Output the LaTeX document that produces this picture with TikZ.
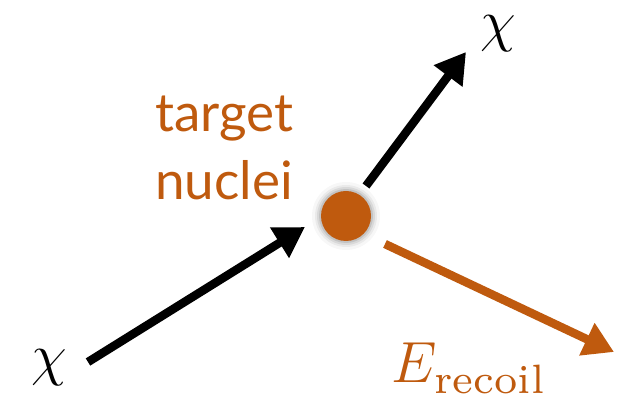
\RequirePackage{fix-cm}
\documentclass[tikz,border=0pt]{standalone}
\usepackage{fontspec}
\newfontfamily\labelfont{Lato}
\newfontfamily\subfont{lmroman7-regular.otf}
\usetikzlibrary{arrows.meta}
\definecolor{burnt}{RGB}{191,90,14}
\begin{document}
\begin{tikzpicture}[x=1pt,y=-1pt,
  arr/.style={line width=8.5pt,-{Triangle[length=30pt,width=34pt]}},
  bigmath/.style={font=\fontsize{58}{60}\selectfont, inner sep=0pt}]
\useasboundingbox (0,0) rectangle (629,411);
% glow behind nucleus
\foreach \r/\o in {34/0.03,31/0.05,29/0.07,27/0.1}
  \fill[black,opacity=\o] (346,216) circle (\r);
\node[circle,fill=burnt,minimum size=50pt,inner sep=0pt] (nuc) at (346,216) {};
\coordinate (inS) at (88,362);
\coordinate (inE) at (305,227);
\coordinate (outS) at (366,186);
\coordinate (outE) at (466,52);
\coordinate (recS) at (385,244);
\coordinate (recE) at (614,352);
\draw[arr] (inS) -- (inE);
\draw[arr] (outS) -- (outE);
\draw[arr,burnt] (recS) -- (recE);
\node[bigmath] (chiin) at (49,368) {$\chi$};
\node[bigmath] (chiout) at (498,34) {$\chi$};
\node[bigmath,anchor=base west,text=burnt] (erec) at (391,383) {$E$\kern-2pt\raisebox{-10pt}{\subfont\fontsize{41}{41}\selectfont recoil}};
\node[font=\labelfont\fontsize{53}{68}\selectfont,text=burnt,align=center,inner sep=0pt] (tn) at (224,148) {target\\nuclei};
\end{tikzpicture}
\end{document}
